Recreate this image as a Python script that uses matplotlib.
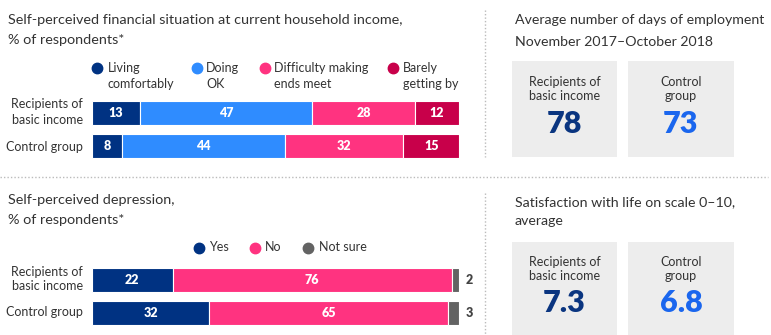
import numpy as np
import matplotlib.pyplot as plt

plt.rcParams['font.family'] = ['Lato', 'DejaVu Sans']

# financial situation, % of respondents
groups = ['Recipients of\nbasic income', 'Control group']
fin_labels = ['Living\ncomfortably', 'Doing\nOK', 'Difficulty making\nends meet', 'Barely\ngetting by']
fin_recip = [13, 47, 28, 12]
fin_ctrl = [8, 44, 32, 15]
fin_colors = ['#003282', '#2f8cff', '#ff3380', '#c8004a']

# depression, % of respondents
dep_labels = ['Yes', 'No', 'Not sure']
dep_recip = [22, 76, 2]
dep_ctrl = [32, 65, 3]
dep_colors = ['#003282', '#ff3380', '#636363']

# stat boxes
box_groups = ['Recipients of\nbasic income', 'Control\ngroup']
days_employed = ['78', '73']
life_satisfaction = ['7.3', '6.8']
num_colors = ['#0a3580', '#1a66ee']

W, H = 771, 335
fig = plt.figure(figsize=(W / 100, H / 100), dpi=100)

# overlay axes in pixel units for decorations
deco = fig.add_axes([0, 0, 1, 1])
deco.set_xlim(0, W)
deco.set_ylim(H, 0)
deco.axis('off')


def px_axes(x0, y0, x1, y1):
    return fig.add_axes([x0 / W, 1 - y1 / H, (x1 - x0) / W, (y1 - y0) / H])


def stacked(ax, rows, colors, outside_last=False):
    for i, vals in enumerate(rows):
        vals = np.array(vals, dtype=float)
        widths = vals / vals.sum() * 100
        left = 0
        for j, (v, w) in enumerate(zip(vals, widths)):
            ax.barh(i, w, left=left, height=0.72, color=colors[j],
                    edgecolor='white', linewidth=0.8)
            if outside_last and j == len(vals) - 1:
                ax.text(101.8, i, f'{int(v)}', ha='left', va='center',
                        fontsize=9, fontweight='heavy', color='#444444')
            else:
                ax.text(left + w / 2, i, f'{int(v)}', ha='center', va='center',
                        fontsize=9, fontweight='heavy', color='white')
            left += w
    ax.set_xlim(0, 100)
    ax.set_ylim(1.5, -0.5)
    ax.axis('off')


# titles
title_kw = dict(fontsize=10.4, color='#333333', ha='left', va='center')
deco.text(8, 20, 'Self-perceived financial situation at current household income,', **title_kw)
deco.text(8, 40, '% of respondents*', **title_kw)
deco.text(8, 200, 'Self-perceived depression,', **title_kw)
deco.text(8, 220, '% of respondents*', **title_kw)
right_kw = dict(title_kw, fontsize=10.2)
deco.text(515, 20, 'Average number of days of employment', **right_kw)
deco.text(515, 42, 'November 2017\u2013October 2018', **right_kw)
deco.text(515, 202, 'Satisfaction with life on scale 0\u201310,', **right_kw)
deco.text(515, 221, 'average', **right_kw)

# legends
leg_kw = dict(fontsize=9, color='#333333', ha='left', va='center', linespacing=1.3)
for dx, tx, lab, c in zip([97, 197, 265, 393], [108, 206, 274, 403], fin_labels, fin_colors):
    deco.plot(dx, 68, 'o', ms=7.5, color=c)
    deco.text(tx, 76, lab, **leg_kw)
for dx, tx, lab, c in zip([199, 255, 308], [209, 265, 319], dep_labels, dep_colors):
    deco.plot(dx, 248, 'o', ms=7.5, color=c)
    deco.text(tx, 247, lab, **leg_kw)

# row labels
row_kw = dict(fontsize=9, color='#333333', ha='right', va='center', linespacing=1.3)
for yc, lab in zip([112, 147], groups):
    deco.text(83, yc, lab, **row_kw)
for yc, lab in zip([279, 312], groups):
    deco.text(83, yc, lab, **row_kw)

# bars
ax1 = px_axes(92, 96.5, 459, 162.5)
stacked(ax1, [fin_recip, fin_ctrl], fin_colors)
ax2 = px_axes(92, 263, 459, 330)
stacked(ax2, [dep_recip, dep_ctrl], dep_colors, outside_last=True)

# separators
deco.plot([0, 768], [177, 177], color='#bbbbbb', lw=1, ls=(0, (1, 1.5)))
deco.plot([485, 485], [10, 157], color='#bbbbbb', lw=1, ls=(0, (1, 1.5)))
deco.plot([485, 485], [193, 335], color='#bbbbbb', lw=1, ls=(0, (1, 1.5)))

# stat boxes
box_x = [(512, 617), (628, 734)]
for (y0, y1, ly, ny, nums) in [(61, 157, 89, 124, days_employed),
                               (242, 340, 269, 303, life_satisfaction)]:
    for (x0, x1), lab, num, nc in zip(box_x, box_groups, nums, num_colors):
        deco.add_patch(plt.Rectangle((x0, y0), x1 - x0, y1 - y0,
                                     color='#ededed', lw=0))
        xc = (x0 + x1) / 2
        deco.text(xc, ly, lab, fontsize=9, color='#333333', ha='center',
                  va='center', linespacing=1.3)
        deco.text(xc, ny, num, fontsize=22, fontweight='heavy', color=nc,
                  ha='center', va='center')

fig.savefig('out.png', dpi=100, facecolor='white')
